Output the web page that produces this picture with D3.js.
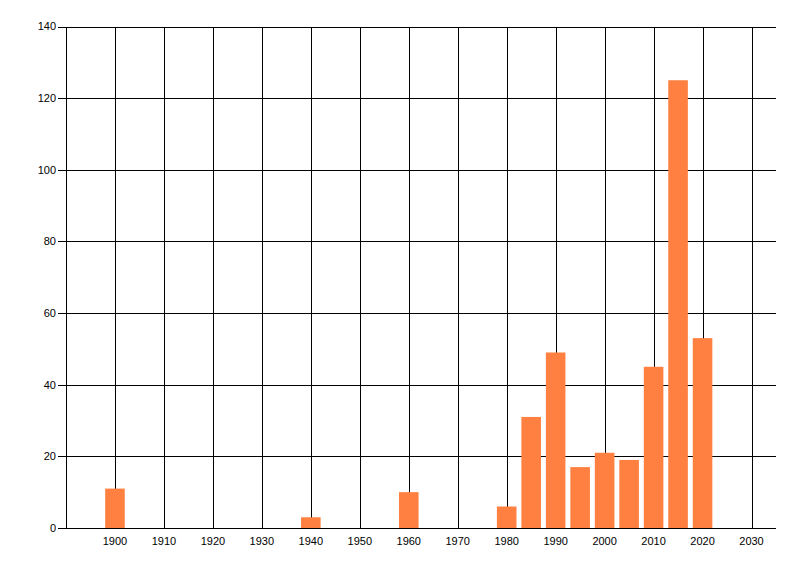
<!DOCTYPE html>
<head>
  <script src="https://cdnjs.cloudflare.com/ajax/libs/d3/7.8.5/d3.min.js"></script>
  <style>
    body { margin: 0; background: #fff; }
    text { font-family: "Liberation Sans", Arial, sans-serif; font-size: 11px; fill: #000; }
  </style>
</head>

<body>
  <div id="chart"></div>

  <script>
    const years = [1900, 1940, 1960, 1980, 1985, 1990, 1995, 2000, 2005, 2010, 2015, 2020];
    const counts = [11, 3, 10, 6, 31, 49, 17, 21, 19, 45, 125, 53];
    const xTicks = [1900, 1910, 1920, 1930, 1940, 1950, 1960, 1970, 1980, 1990, 2000, 2010, 2020, 2030];
    const yTicks = [0, 20, 40, 60, 80, 100, 120, 140];

    const width = 800;
    const height = 576;
    const plotL = 66, plotR = 776, plotT = 26.5, plotB = 528;

    const svg = d3.select('#chart').append('svg')
      .attr('width', width)
      .attr('height', height);

    const x = d3.scaleLinear().domain([1890, 2035]).range([plotL, plotR]);
    const y = d3.scaleLinear().domain([0, 140]).range([plotB, plotT]);

    // grid
    svg.append('g')
      .selectAll('line')
      .data(yTicks)
      .join('line')
      .attr('x1', plotL - 8).attr('x2', plotR)
      .attr('y1', d => Math.round(y(d)) + 0.5).attr('y2', d => Math.round(y(d)) + 0.5)
      .attr('stroke', '#000');

    svg.append('g')
      .selectAll('line')
      .data(xTicks)
      .join('line')
      .attr('x1', d => Math.round(x(d)) + 0.5).attr('x2', d => Math.round(x(d)) + 0.5)
      .attr('y1', Math.round(plotT) + 0.5).attr('y2', plotB)
      .attr('stroke', '#000');

    svg.append('line')
      .attr('x1', plotL + 0.5).attr('x2', plotL + 0.5)
      .attr('y1', Math.round(plotT) + 0.5).attr('y2', plotB)
      .attr('stroke', '#000');

    // bars
    const barW = x(1904) - x(1900);
    svg.append('g')
      .selectAll('rect')
      .data(years)
      .join('rect')
      .attr('x', d => x(d) - barW / 2)
      .attr('width', barW)
      .attr('y', (d, i) => y(counts[i]))
      .attr('height', (d, i) => y(0) - y(counts[i]))
      .attr('fill', '#ff8040');

    // axis line on top
    svg.append('line')
      .attr('x1', plotL - 8).attr('x2', plotR)
      .attr('y1', Math.round(plotB) + 0.5).attr('y2', Math.round(plotB) + 0.5)
      .attr('stroke', '#000');

    // labels
    svg.append('g')
      .selectAll('text')
      .data(yTicks)
      .join('text')
      .attr('x', 56)
      .attr('y', d => y(d))
      .attr('dy', '0.35em')
      .attr('text-anchor', 'end')
      .text(d => d);

    svg.append('g')
      .selectAll('text')
      .data(xTicks)
      .join('text')
      .attr('x', d => x(d))
      .attr('y', 541)
      .attr('dy', '0.35em')
      .attr('text-anchor', 'middle')
      .text(d => d);
  </script>
</body>
